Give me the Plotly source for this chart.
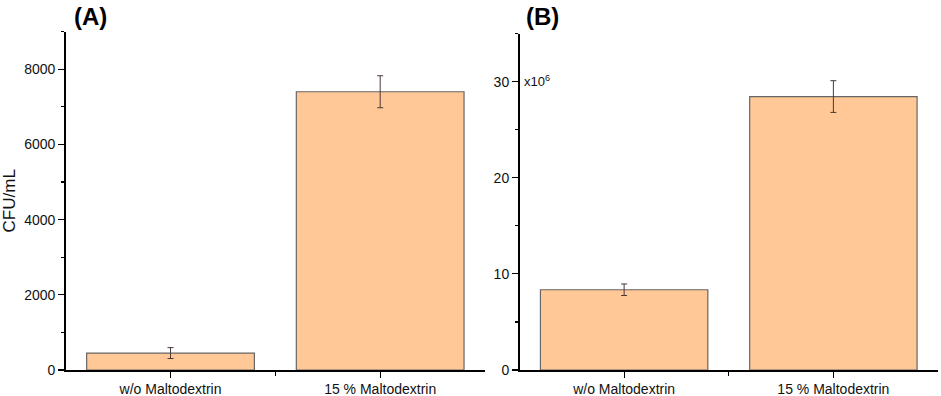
import plotly.graph_objects as go

categories = ["w/o Maltodextrin", "15 % Maltodextrin"]
a_values = [450, 7400]
a_errors = [145, 425]
b_values = [8.35e6, 28.45e6]
b_errors = [0.6e6, 1.65e6]
a_ticks = [0, 2000, 4000, 6000, 8000]
a_tick_labels = ["0", "2000", "4000", "6000", "8000"]
b_ticks = [0, 10e6, 20e6, 30e6]
b_tick_labels = ["0", "10", "20", "30"]

BAR = "#FFC896"
EDGE = "#666666"
ERR = "#4a3838"
FONT = "Liberation Sans, Arial, sans-serif"

xpos = list(range(len(categories)))

fig = go.Figure()
fig.add_trace(go.Bar(x=xpos, y=a_values, width=0.8, marker=dict(color=BAR, line=dict(color=EDGE, width=1.2)),
                     error_y=dict(type="data", array=a_errors, color=ERR, thickness=1, width=3),
                     xaxis="x", yaxis="y", showlegend=False, hoverinfo="skip"))
fig.add_trace(go.Bar(x=xpos, y=b_values, width=0.8, marker=dict(color=BAR, line=dict(color=EDGE, width=1.2)),
                     error_y=dict(type="data", array=b_errors, color=ERR, thickness=1, width=3),
                     xaxis="x2", yaxis="y2", showlegend=False, hoverinfo="skip"))

xcommon = dict(range=[-0.5, 1.5], tickmode="array", tickvals=xpos, ticktext=categories,
               showline=True, linecolor="black", linewidth=1.5, ticks="outside", ticklen=6,
               tickcolor="black", tickwidth=1.2, showgrid=False, zeroline=False, automargin=False,
               tickfont=dict(family=FONT, size=14, color="#111"),
               minor=dict(tickmode="array", tickvals=[0.5], ticks="outside", ticklen=4,
                          tickcolor="black", tickwidth=1.2))
ycommon = dict(showline=True, linecolor="black", linewidth=1.5, ticks="outside", ticklen=6,
               tickcolor="black", tickwidth=1.2, showgrid=False, zeroline=False, automargin=False,
               tickfont=dict(family=FONT, size=14, color="#111"))

fig.update_layout(
    width=941, height=396,
    margin=dict(l=0, r=0, t=0, b=0),
    plot_bgcolor="white", paper_bgcolor="white",
    bargap=0.2,
    xaxis=dict(domain=[65.7 / 941, 485 / 941], anchor="y", **xcommon),
    xaxis2=dict(domain=[519.5 / 941, 938 / 941], anchor="y2", **xcommon),
    yaxis=dict(domain=[1 - 370 / 396, 1 - 31.6 / 396], anchor="x", range=[0, 9000],
               tickmode="array", tickvals=a_ticks, ticktext=a_tick_labels,
               minor=dict(tickmode="array", tickvals=[1000, 3000, 5000, 7000, 9000], ticks="outside",
                          ticklen=3, tickcolor="black", tickwidth=1.2),
               title=dict(text="CFU/mL", font=dict(family=FONT, size=17, color="#111"), standoff=8),
               **ycommon),
    yaxis2=dict(domain=[1 - 370 / 396, 1 - 33.6 / 396], anchor="x2", range=[0, 35e6],
                tickmode="array", tickvals=b_ticks, ticktext=b_tick_labels,
                minor=dict(tickmode="array", tickvals=[5e6, 15e6, 25e6, 35e6], ticks="outside",
                           ticklen=3, tickcolor="black", tickwidth=1.2),
                **ycommon),
    annotations=[
        dict(text="<b>(A)</b>", x=72 / 941, y=1 - 1 / 396, xref="paper", yref="paper",
             xanchor="left", yanchor="top", showarrow=False,
             font=dict(family=FONT, size=24, color="black")),
        dict(text="<b>(B)</b>", x=524 / 941, y=1 - 1 / 396, xref="paper", yref="paper",
             xanchor="left", yanchor="top", showarrow=False,
             font=dict(family=FONT, size=24, color="black")),
        dict(text="x10<sup>6</sup>", x=522 / 941, y=1 - 81 / 396, xref="paper", yref="paper",
             xanchor="left", yanchor="middle", showarrow=False,
             font=dict(family=FONT, size=13, color="#111")),
    ],
)

fig.write_html("out.html", config={"displayModeBar": False, "staticPlot": True},
               post_script="document.body.style.margin='0';document.body.style.overflow='hidden';")
